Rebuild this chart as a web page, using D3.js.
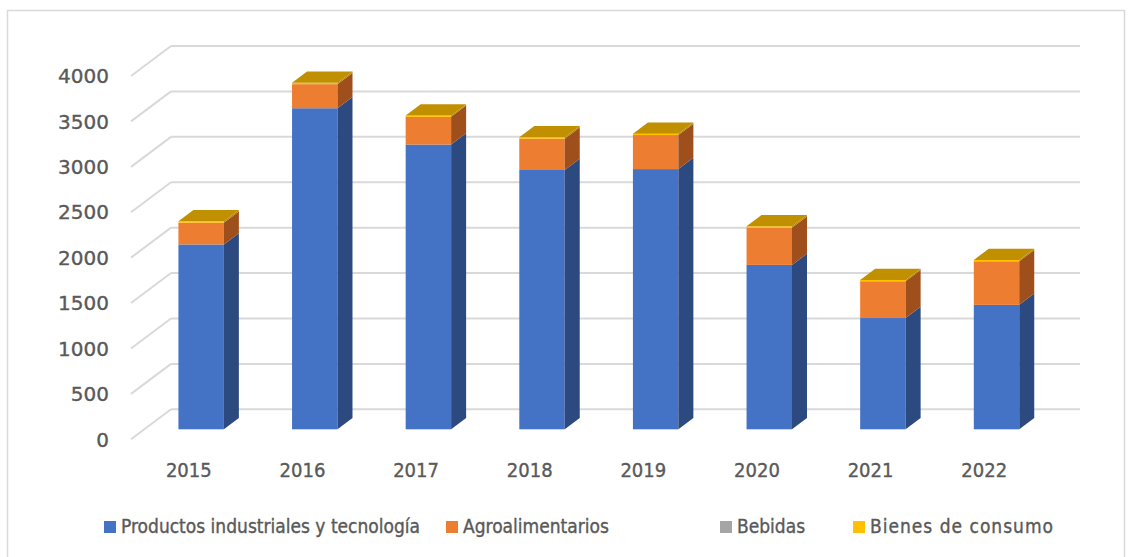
<!DOCTYPE html>
<html>
<head>
<meta charset="utf-8">
<script src="https://cdn.jsdelivr.net/npm/d3@7"></script>
<style>
body { margin: 0; background: #fff; }
text { font-family: "DejaVu Sans Condensed", "DejaVu Sans", sans-serif; fill: #595959; stroke: #595959; stroke-width: 0.35px; }
</style>
</head>
<body>
<script>
var years = ["2015", "2016", "2017", "2018", "2019", "2020", "2021", "2022"]
var seriesNames = ["Productos industriales y tecnología", "Agroalimentarios", "Bebidas", "Bienes de consumo"]
var productos = [2035, 3535, 3135, 2855, 2865, 1810, 1225, 1370]
var agro = [240, 265, 305, 345, 375, 410, 405, 480]
var bebidas = [0, 0, 0, 0, 0, 0, 0, 0]
var bienes = [15, 15, 15, 15, 15, 15, 15, 15]
var yTicks = [0, 500, 1000, 1500, 2000, 2500, 3000, 3500, 4000]

var colors = ["#4472C4", "#ED7D31", "#A5A5A5", "#FFC000"]
var sideColors = ["#2D4A80", "#9E4F1C", "#6B6B6B", "#B38600"]
var topColors = ["#3A62A8", "#C96A2A", "#8C8C8C", "#C09000"]

var width = 1133, height = 557

// floor depth (whole) and bar depth offsets
var depthX = 40, depthY = -30
var barFront = 1 / 3, barDepth = 0.375

var svg = d3.select("body").append("svg")
  .attr("width", width)
  .attr("height", height)

svg.append("rect")
  .attr("x", 7.5).attr("y", 10.5)
  .attr("width", 1117).attr("height", 560)
  .attr("fill", "none")
  .attr("stroke", "#D9D9D9")
  .attr("stroke-width", 1.5)

var x = d3.scaleBand().domain(years).range([131, 1040]).paddingInner(0.6).paddingOuter(0.3)
// y on the front edge of the floor
var y = d3.scaleLinear().domain([0, 4000]).range([439.3, 76])

// gridlines: diagonal on the side wall + line on the back wall
var grid = svg.append("g")
grid.selectAll("line.diag").data(yTicks).enter().append("line")
  .attr("x1", 131).attr("y1", function(d){ return y(d); })
  .attr("x2", 131 + depthX).attr("y2", function(d){ return y(d) + depthY; })
  .attr("stroke", "#D9D9D9").attr("stroke-width", 2)
grid.selectAll("line.back").data(yTicks).enter().append("line")
  .attr("x1", 131 + depthX).attr("y1", function(d){ return y(d) + depthY; })
  .attr("x2", 1080).attr("y2", function(d){ return y(d) + depthY; })
  .attr("stroke", "#D9D9D9").attr("stroke-width", 2)

svg.append("g").selectAll("text").data(yTicks).enter().append("text")
  .attr("x", 109)
  .attr("y", function(d){ return y(d); })
  .attr("dy", "0.36em")
  .attr("text-anchor", "end")
  .style("font-family", "'DejaVu Sans', sans-serif")
  .style("font-size", "20px")
  .text(function(d){ return d; })

svg.append("g").selectAll("text").data(years).enter().append("text")
  .attr("x", function(d){ return x(d) + x.bandwidth() / 2 + 1; })
  .attr("y", 470)
  .attr("dy", "0.36em")
  .attr("text-anchor", "middle")
  .style("font-size", "20px")
  .text(function(d){ return d; })

// stacked data
var table = years.map(function(yr, i){
  return { year: yr, s0: productos[i], s1: agro[i], s2: bebidas[i], s3: bienes[i] }
})
var stack = d3.stack().keys(["s0", "s1", "s2", "s3"])(table)

var fx = barFront * depthX, fy = barFront * depthY
var bx = barDepth * depthX, by = barDepth * depthY

var bars = svg.append("g")
years.forEach(function(yr, i){
  var x0 = x(yr) + fx, x1 = x0 + x.bandwidth()
  var topSeries = -1
  stack.forEach(function(layer, k){
    var lo = layer[i][0], hi = layer[i][1]
    if (hi - lo <= 0) return
    topSeries = k
    var yl = y(lo) + fy, yh = y(hi) + fy
    bars.append("rect")
      .attr("x", x0).attr("y", yh)
      .attr("width", x1 - x0).attr("height", yl - yh)
      .attr("fill", colors[k])
    bars.append("path")
      .attr("d", "M" + x1 + "," + yl + "L" + (x1 + bx) + "," + (yl + by) +
        "L" + (x1 + bx) + "," + (yh + by) + "L" + x1 + "," + yh + "Z")
      .attr("fill", sideColors[k])
  })
  if (topSeries >= 0){
    var yt = y(stack[topSeries][i][1]) + fy
    bars.append("path")
      .attr("d", "M" + x0 + "," + yt + "L" + (x0 + bx) + "," + (yt + by) +
        "L" + (x1 + bx) + "," + (yt + by) + "L" + x1 + "," + yt + "Z")
      .attr("fill", topColors[topSeries])
  }
})

// legend
var legendX = [104, 446, 720, 853]
var legend = svg.append("g").selectAll("g").data(seriesNames).enter().append("g")
  .attr("transform", function(d, i){ return "translate(" + legendX[i] + ",521)"; })
legend.append("rect")
  .attr("width", 12).attr("height", 12)
  .attr("fill", function(d, i){ return colors[i]; })
legend.append("text")
  .attr("x", 17).attr("y", 12)
  .style("font-size", "19px")
  .style("letter-spacing", function(d, i){ return i == 3 ? "1px" : "0px"; })
  .text(function(d){ return d; })
</script>
</body>
</html>
